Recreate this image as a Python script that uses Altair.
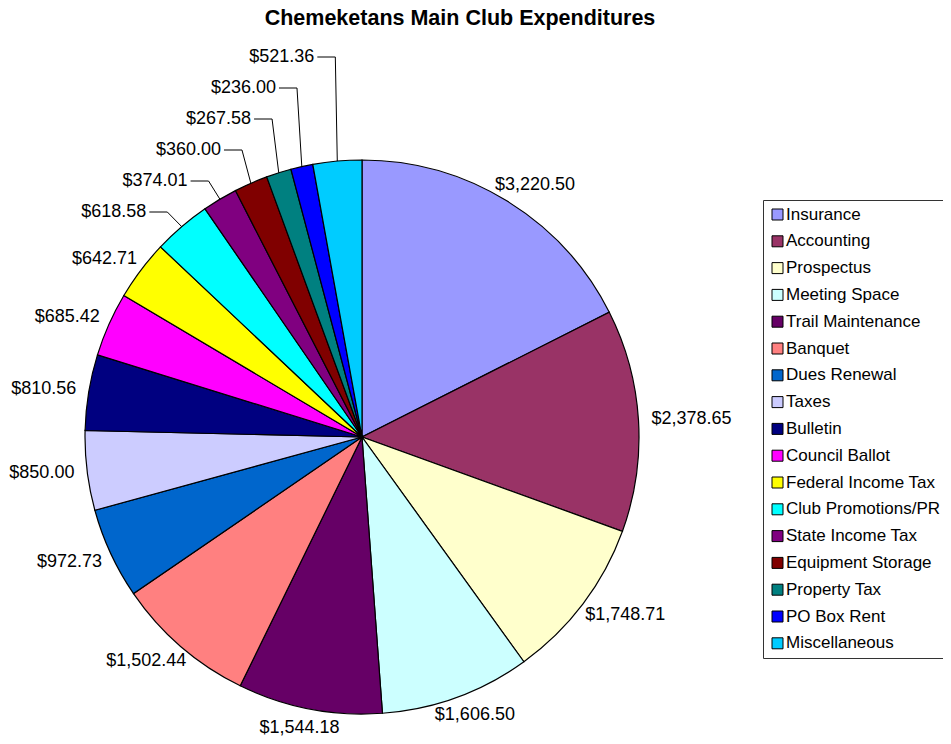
import math
import altair as alt
import pandas as pd

# ---------------- data ----------------
categories = ["Insurance", "Accounting", "Prospectus", "Meeting Space",
              "Trail Maintenance", "Banquet", "Dues Renewal", "Taxes",
              "Bulletin", "Council Ballot", "Federal Income Tax",
              "Club Promotions/PR", "State Income Tax", "Equipment Storage",
              "Property Tax", "PO Box Rent", "Miscellaneous"]
amounts = [3220.50, 2378.65, 1748.71, 1606.50, 1544.18, 1502.44, 972.73,
           850.00, 810.56, 685.42, 642.71, 618.58, 374.01, 360.00, 267.58,
           236.00, 521.36]
colors = ["#9999FF", "#993366", "#FFFFCC", "#CCFFFF", "#660066", "#FF8080",
          "#0066CC", "#CCCCFF", "#000080", "#FF00FF", "#FFFF00", "#00FFFF",
          "#800080", "#800000", "#008080", "#0000FF", "#00CCFF"]
title_text = "Chemeketans Main Club Expenditures"
# slices whose labels are pulled out with leader lines
leader_cats = ["Club Promotions/PR", "State Income Tax", "Equipment Storage",
               "Property Tax", "PO Box Rent", "Miscellaneous"]

# ---------------- layout ----------------
CX, CY, R = 354, 429, 277          # pie centre / radius (plot coords)
FONT = "Liberation Sans"
LABEL_SIZE = 18
LABEL_GAP = 13
LABEL_HALF_H = 6
LEAD_TOP, LEAD_STEP, LEAD_SLANT, LEAD_TICK = 49, 31, 0.08, 18


def money(v):
    return "${:,.2f}".format(v)


total = sum(amounts)
rows = []
cum = 0.0
for i, (c, v) in enumerate(zip(categories, amounts)):
    mid = 2 * math.pi * (cum + v / 2) / total
    cum += v
    lab = money(v)
    w = LABEL_SIZE * sum(0.278 if ch in ",." else 0.556 for ch in lab)
    rx = R + LABEL_GAP + w / 2
    ry = R + LABEL_GAP + LABEL_HALF_H
    rows.append(dict(idx=i, cat=c, amount=v, label=lab,
                     main_label="" if c in leader_cats else lab,
                     lx=CX + rx * math.sin(mid), ly=CY - ry * math.cos(mid),
                     mid=mid))
df = pd.DataFrame(rows)

# leader lines computed from the slice mid-angles
seg_rows, lead_lab_rows = [], []
for k, c in enumerate(reversed(leader_cats)):
    r = df[df.cat == c].iloc[0]
    ex = CX + R * math.sin(r.mid)
    ey = CY - R * math.cos(r.mid)
    ly = LEAD_TOP + LEAD_STEP * k
    bx = ex - LEAD_SLANT * (CX - ex)
    seg_rows.append(dict(x=bx - LEAD_TICK, y=ly, x2=bx, y2=ly))
    seg_rows.append(dict(x=bx, y=ly, x2=ex, y2=ey))
    lead_lab_rows.append(dict(x=bx - LEAD_TICK - 3, y=ly, label=r.label))
seg_df = pd.DataFrame(seg_rows)
lead_df = pd.DataFrame(lead_lab_rows)

# ---------------- chart ----------------
base = alt.Chart(df)

pie = base.mark_arc(radius=R, stroke="black", strokeWidth=1.2).encode(
    theta=alt.Theta("amount:Q", stack=True),
    order=alt.Order("idx:Q", sort="ascending"),
    color=alt.Color(
        "cat:N",
        scale=alt.Scale(domain=categories, range=colors),
        sort=categories,
        legend=alt.Legend(
            title=None, orient="none", legendX=755, legendY=192,
            symbolType="square", symbolSize=121,
            symbolStrokeColor="black", symbolStrokeWidth=1,
            labelFont=FONT, labelFontSize=17, labelColor="black",
            rowPadding=8.8, padding=6, strokeColor="#333333",
            fillColor="white", labelLimit=400, labelOffset=0,
        ),
    ),
    x=alt.value(CX), y=alt.value(CY),
)

labels = base.mark_text(font=FONT, fontSize=LABEL_SIZE, color="black",
                        align="center", baseline="middle").encode(
    x=alt.X("lx:Q", scale=None), y=alt.Y("ly:Q", scale=None),
    text="main_label:N",
)

leaders = alt.Chart(seg_df).mark_rule(color="black", strokeWidth=1).encode(
    x=alt.X("x:Q", scale=None), y=alt.Y("y:Q", scale=None),
    x2="x2:Q", y2="y2:Q",
)

leader_labels = alt.Chart(lead_df).mark_text(
    font=FONT, fontSize=LABEL_SIZE, color="black", align="right",
    baseline="middle").encode(
    x=alt.X("x:Q", scale=None), y=alt.Y("y:Q", scale=None), text="label:N",
)

title = alt.Chart(pd.DataFrame({"t": [title_text]})).mark_text(
    font=FONT, fontSize=21.5, fontWeight="bold", color="black",
    align="center", baseline="middle").encode(
    text="t:N", x=alt.value(452), y=alt.value(11),
)

chart = alt.layer(pie, labels, leaders, leader_labels, title).properties(
    width=935, height=728, padding=0,
    autosize=alt.AutoSizeParams(type="none"),
).configure_view(stroke=None)

chart.save("out.html", embed_options={"renderer": "svg", "actions": False})
